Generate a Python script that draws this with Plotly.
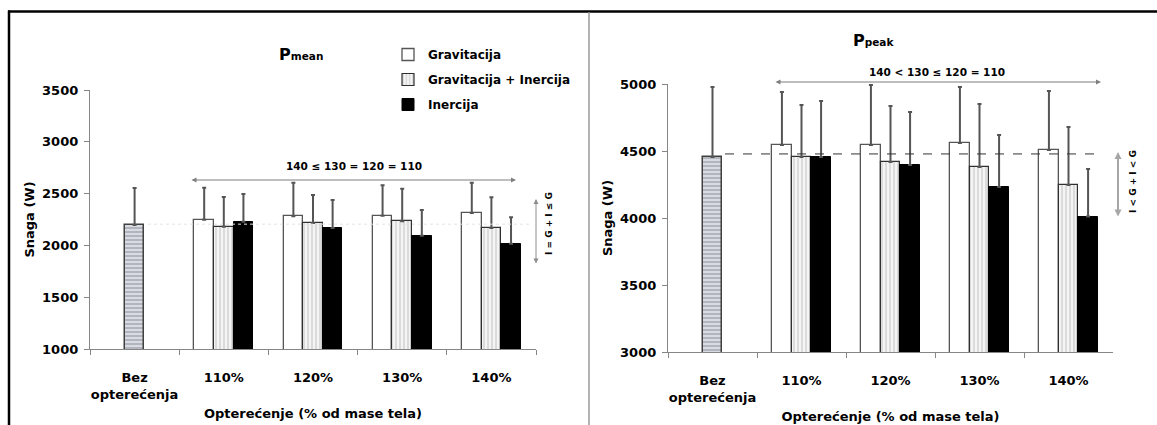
import plotly.graph_objects as go

# ---------------- data ----------------
categories = ["Bez<br>opterećenja", "110%", "120%", "130%", "140%"]
load_categories = categories[1:]
series_names = ["Gravitacija", "Gravitacija + Inercija", "Inercija"]

# P mean (W)
mean_bez = 2197
mean_bez_sd = 357
mean_G = [2248, 2281, 2287, 2313]
mean_G_sd = [309, 324, 293, 292]
mean_GI = [2180, 2216, 2233, 2168]
mean_GI_sd = [287, 270, 314, 296]
mean_I = [2229, 2168, 2094, 2016]
mean_I_sd = [267, 270, 248, 255]
mean_ref_line = 2205

# P peak (W)
peak_bez = 4455
peak_bez_sd = 523
peak_G = [4545, 4545, 4560, 4507]
peak_G_sd = [395, 448, 418, 441]
peak_GI = [4455, 4418, 4381, 4246]
peak_GI_sd = [388, 418, 470, 433]
peak_I = [4455, 4396, 4231, 4011]
peak_I_sd = [418, 395, 388, 355]
peak_ref_line = 4478

mean_note = "140 ≤ 130 = 120 = 110"
peak_note = "140 < 130 ≤ 120 = 110"
mean_side_note = "I = G + I ≤ G"
peak_side_note = "I < G + I < G"

# ---------------- helpers ----------------
W, H = 1157, 425
def X(p):
    return p / W
def Y(p):
    return 1 - p / H

FONT = "DejaVu Sans"
ERR_COLOR = "#555555"
AXIS_COLOR = "#868686"

def err(sd):
    return dict(type="data", symmetric=False, array=sd, arrayminus=[0] * len(sd),
                color=ERR_COLOR, thickness=2, width=2)

styles = [
    dict(marker=dict(color="white", line=dict(color="#555555", width=1.3))),
    dict(marker=dict(color="#f2f2f2", line=dict(color="#303030", width=1.2),
                     pattern=dict(shape="|", fgcolor="#bdbdbd", bgcolor="#f4f4f4",
                                  size=4, solidity=0.45))),
    dict(marker=dict(color="black", line=dict(color="black", width=1))),
]
offsets = [-0.33, -0.11, 0.11]
bez_marker = dict(color="#d8dbe1", line=dict(color="#404040", width=1.5),
                  pattern=dict(shape="-", fgcolor="#8b8f99", bgcolor="#d8dbe1",
                               size=4, solidity=0.5))

fig = go.Figure()

panels = [
    ("x", "y", mean_bez, mean_bez_sd,
     [mean_G, mean_GI, mean_I], [mean_G_sd, mean_GI_sd, mean_I_sd], True),
    ("x2", "y2", peak_bez, peak_bez_sd,
     [peak_G, peak_GI, peak_I], [peak_G_sd, peak_GI_sd, peak_I_sd], False),
]
for xa, ya, bz, bzsd, vals, sds, show in panels:
    fig.add_trace(go.Bar(x=[categories[0]], y=[bz], width=0.22, offset=-0.11,
                         marker=bez_marker, error_y=err([bzsd]),
                         xaxis=xa, yaxis=ya, showlegend=False, name="Bez opterećenja"))
    for i, name in enumerate(series_names):
        fig.add_trace(go.Bar(x=load_categories, y=vals[i], width=0.22, offset=offsets[i],
                             error_y=err(sds[i]), name=name, legendgroup=name,
                             showlegend=show, xaxis=xa, yaxis=ya, **styles[i]))

tick_font = dict(family=FONT, size=13, color="black", weight="bold")
title_font = dict(family=FONT, size=13, color="black", weight="bold")

def xaxis(domain, anchor):
    return dict(domain=domain, anchor=anchor, type="category", automargin=False,
                categoryorder="array", categoryarray=categories, range=[-0.5, 4.5],
                showline=True, linecolor=AXIS_COLOR, linewidth=1.3,
                ticks="outside", tickson="boundaries", ticklen=5, tickcolor=AXIS_COLOR,
                tickwidth=1.3, tickfont=tick_font, ticklabelstandoff=16, tickangle=0,
                showgrid=False, zeroline=False, fixedrange=True,
                title=dict(text="Opterećenje (% od mase tela)", font=title_font, standoff=8))

def yaxis(domain, anchor, rng):
    return dict(domain=domain, anchor=anchor, range=rng, dtick=500, automargin=False,
                showline=True, linecolor=AXIS_COLOR, linewidth=1.3,
                ticks="outside", ticklen=5, tickcolor=AXIS_COLOR, tickwidth=1.3,
                tickfont=tick_font, ticklabelstandoff=3, showgrid=False, zeroline=False,
                fixedrange=True,
                title=dict(text="Snaga (W)", font=title_font, standoff=4))

fig.update_layout(
    width=W, height=H, autosize=False,
    margin=dict(l=0, r=0, t=0, b=0, autoexpand=False),
    paper_bgcolor="white", plot_bgcolor="white",
    barmode="overlay", bargap=0,
    xaxis=xaxis([X(90), X(536)], "y"),
    yaxis=yaxis([Y(349), Y(90)], "x", [1000, 3500]),
    xaxis2=xaxis([X(668), X(1113)], "y2"),
    yaxis2=yaxis([Y(352), Y(84)], "x2", [3000, 5000]),
    legend=dict(x=X(388), y=Y(40), xanchor="left", yanchor="top",
                bgcolor="rgba(0,0,0,0)", itemwidth=30, tracegroupgap=6,
                font=dict(family=FONT, size=12, color="black", weight="bold")),
    showlegend=True,
)

ann_font = dict(family=FONT, color="black", weight="bold")
annotations = [
    dict(x=X(277), y=Y(55), xref="paper", yref="paper", xanchor="left", yanchor="middle",
         text="P<span style='font-size:10.5px'>mean</span>", showarrow=False,
         font=dict(size=16, **ann_font)),
    dict(x=X(851), y=Y(40), xref="paper", yref="paper", xanchor="left", yanchor="middle",
         text="P<span style='font-size:10.5px'>peak</span>", showarrow=False,
         font=dict(size=16, **ann_font)),
    dict(x=X(354), y=Y(166), xref="paper", yref="paper", xanchor="center", yanchor="middle",
         text=mean_note, showarrow=False, font=dict(size=10.5, **ann_font)),
    dict(x=X(937), y=Y(72), xref="paper", yref="paper", xanchor="center", yanchor="middle",
         text=peak_note, showarrow=False, font=dict(size=10.5, **ann_font)),
    dict(x=X(549), y=Y(224), xref="paper", yref="paper", xanchor="center", yanchor="middle",
         text=mean_side_note, showarrow=False, textangle=-90, font=dict(size=9, **ann_font)),
    dict(x=X(1133), y=Y(182), xref="paper", yref="paper", xanchor="center", yanchor="middle",
         text=peak_side_note, showarrow=False, textangle=-90, font=dict(size=9, **ann_font)),
    # double arrows
    dict(x=X(516), y=Y(180), xref="paper", yref="paper", text="", showarrow=True,
         ax=-(516 - 190), ay=0, arrowside="end+start", arrowhead=2, startarrowhead=2,
         arrowsize=1, startarrowsize=1, arrowwidth=1, arrowcolor="#7f7f7f"),
    dict(x=X(1101), y=Y(82), xref="paper", yref="paper", text="", showarrow=True,
         ax=-(1101 - 774), ay=0, arrowside="end+start", arrowhead=2, startarrowhead=2,
         arrowsize=1, startarrowsize=1, arrowwidth=1, arrowcolor="#7f7f7f"),
    dict(x=X(536), y=Y(199), xref="paper", yref="paper", text="", showarrow=True,
         ax=0, ay=66, arrowside="end+start", arrowhead=2, startarrowhead=2,
         arrowsize=1, startarrowsize=1, arrowwidth=1, arrowcolor="#8c8c8c"),
    dict(x=X(1118), y=Y(152), xref="paper", yref="paper", text="", showarrow=True,
         ax=0, ay=66, arrowside="end+start", arrowhead=2, startarrowhead=2,
         arrowsize=0.7, startarrowsize=0.7, arrowwidth=2, arrowcolor="#a6a6a6"),
]
fig.update_layout(annotations=annotations)

shapes = [
    dict(type="line", xref="paper", yref="paper", x0=X(8), x1=1, y0=Y(11.5), y1=Y(11.5),
         line=dict(color="black", width=2.5)),
    dict(type="line", xref="paper", yref="paper", x0=X(9), x1=X(9), y0=Y(10.5), y1=0,
         line=dict(color="black", width=2.5)),
    dict(type="line", xref="paper", yref="paper", x0=X(589), x1=X(589), y0=Y(12.5), y1=0,
         line=dict(color="#b3b3b3", width=2)),
    dict(type="line", xref="paper", yref="y2", x0=X(725), x1=X(1101),
         y0=peak_ref_line, y1=peak_ref_line, line=dict(color="#333333", width=1, dash="dash")),
    dict(type="line", xref="paper", yref="y", x0=X(148), x1=X(531),
         y0=mean_ref_line, y1=mean_ref_line, line=dict(color="#e3e3e3", width=1, dash="dot")),
]
fig.update_layout(shapes=shapes)

fig.write_html("out.html", config={"displayModeBar": False})
